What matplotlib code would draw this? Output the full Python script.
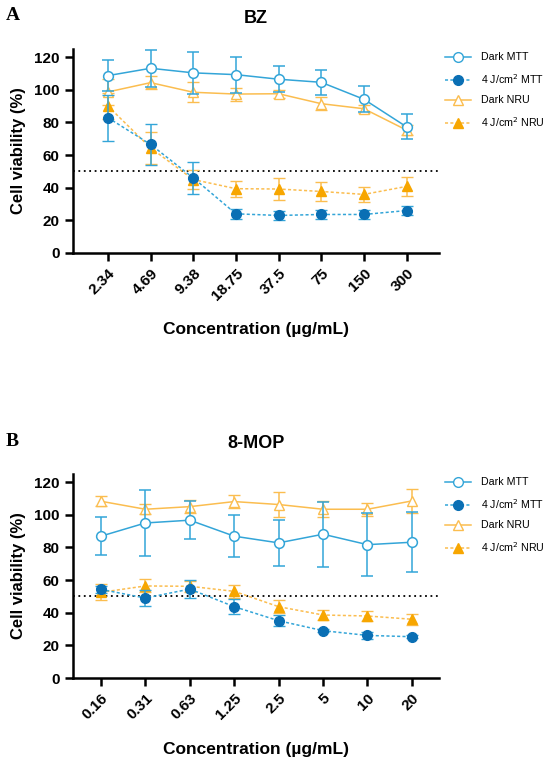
import numpy as np
import matplotlib.pyplot as plt
from matplotlib.lines import Line2D

plt.rcParams['font.family'] = ['Liberation Sans', 'DejaVu Sans']

# Panel A - BZ
bz_conc = ['2.34', '4.69', '9.38', '18.75', '37.5', '75', '150', '300']
bz_dark_mtt = [108.7, 113.2, 110.4, 109.3, 106.5, 104.6, 94.2, 77.3]
bz_dark_mtt_err = [9.5, 11.5, 13.0, 11.0, 8.0, 7.6, 8.0, 7.7]
bz_uv_mtt = [82.9, 66.5, 46.0, 24.0, 23.0, 23.6, 23.6, 26.0]
bz_uv_mtt_err = [14.0, 12.7, 9.6, 3.0, 3.0, 3.0, 3.0, 3.0]
bz_dark_nru = [98.7, 104.4, 98.5, 97.4, 97.6, 91.5, 88.4, 75.3]
bz_dark_nru_err = [8.0, 4.0, 6.0, 4.0, 2.5, 4.0, 2.5, 3.0]
bz_uv_nru = [90.0, 64.4, 45.0, 39.4, 39.2, 37.7, 35.9, 40.8]
bz_uv_nru_err = [8.0, 10.0, 6.0, 5.0, 7.0, 6.0, 4.5, 6.0]

# Panel B - 8-MOP
mop_conc = ['0.16', '0.31', '0.63', '1.25', '2.5', '5', '10', '20']
mop_dark_mtt = [86.9, 95.0, 96.7, 86.9, 82.8, 88.1, 81.7, 83.2]
mop_dark_mtt_err = [11.5, 20.0, 11.5, 13.0, 14.3, 20.0, 19.5, 18.5]
mop_uv_mtt = [54.3, 49.0, 54.5, 43.7, 35.1, 29.0, 26.1, 25.3]
mop_uv_mtt_err = [2.0, 5.0, 5.5, 4.5, 3.5, 1.0, 2.0, 1.0]
mop_dark_nru = [108.3, 103.4, 105.0, 108.1, 106.3, 103.4, 103.4, 108.5]
mop_dark_nru_err = [3.0, 3.0, 4.0, 4.0, 7.5, 5.0, 4.0, 7.5]
mop_uv_nru = [52.5, 56.4, 56.2, 53.1, 43.7, 38.6, 38.0, 36.0]
mop_uv_nru_err = [5.0, 4.0, 3.5, 4.0, 4.0, 3.0, 3.0, 3.5]

c_mtt = '#33a5d8'
c_mtt_dark = '#0a6fb4'
c_nru = '#fbbd4f'
c_nru_dark = '#f7a600'
dash = (0, (2, 1.5))


def panel(ax, conc, dm, dme, um, ume, dn, dne, un, une, title, xpad):
    x = np.arange(len(conc))
    ax.errorbar(x, dm, yerr=dme, color=c_mtt, lw=1.1, marker='o', ms=7,
                mfc='white', mec=c_mtt, mew=1.1, capsize=4, elinewidth=1.1, zorder=4)
    ax.errorbar(x, um, yerr=ume, color=c_mtt, lw=1.1, ls=dash, marker='o', ms=7,
                mfc=c_mtt_dark, mec=c_mtt_dark, capsize=4, elinewidth=1.1, zorder=4)
    ax.errorbar(x, dn, yerr=dne, color=c_nru, lw=1.1, marker='^', ms=7,
                mfc='white', mec=c_nru, mew=1.0, capsize=4, elinewidth=1.1, zorder=3)
    ax.errorbar(x, un, yerr=une, color=c_nru, lw=1.1, ls=dash, marker='^', ms=7,
                mfc=c_nru_dark, mec=c_nru_dark, capsize=4, elinewidth=1.1, zorder=3)
    ax.axhline(50, color='black', ls=(0, (1, 2)), lw=1.3, zorder=2)

    ax.set_xlim(-xpad[0], len(conc) - 1 + xpad[1])
    ax.set_ylim(0, 125)
    ax.set_yticks([0, 20, 40, 60, 80, 100, 120])
    ax.set_xticks(x)
    ax.set_xticklabels(conc, rotation=45, ha='right', rotation_mode='anchor')
    for s in ['top', 'right']:
        ax.spines[s].set_visible(False)
    for s in ['left', 'bottom']:
        ax.spines[s].set_linewidth(1.8)
    ax.tick_params(width=1.8, length=6, labelsize=11)
    for lab in ax.get_xticklabels() + ax.get_yticklabels():
        lab.set_fontweight('bold')
    ax.set_ylabel('Cell viability (%)', fontsize=12, fontweight='bold', labelpad=6)
    ax.set_xlabel('Concentration (\u00b5g/mL)', fontsize=12.5, fontweight='bold', labelpad=14)
    ax.set_title(title, fontsize=13, fontweight='bold', pad=19)

    handles = [
        Line2D([], [], color=c_mtt, lw=1.1, marker='o', ms=7, mfc='white', mec=c_mtt),
        Line2D([], [], color=c_mtt, lw=1.1, ls=dash, marker='o', ms=7,
               mfc=c_mtt_dark, mec=c_mtt_dark),
        Line2D([], [], color=c_nru, lw=1.1, marker='^', ms=7, mfc='white', mec=c_nru),
        Line2D([], [], color=c_nru, lw=1.1, ls=dash, marker='^', ms=7,
               mfc=c_nru_dark, mec=c_nru_dark),
    ]
    labels = ['Dark MTT', '4 J/cm$^2$ MTT', 'Dark NRU', '4 J/cm$^2$ NRU']
    ax.legend(handles, labels, loc='upper left', bbox_to_anchor=(1.0, 1.015), frameon=False,
              fontsize=7.7, handlelength=2.4, handletextpad=0.9, labelspacing=0.9,
              borderaxespad=0.2)


fig = plt.figure(figsize=(5.5, 7.59), dpi=100)
ax1 = fig.add_axes([0.1327, 0.6667, 0.6655, 0.2687])
ax2 = fig.add_axes([0.1327, 0.1067, 0.6655, 0.2688])

panel(ax1, bz_conc, bz_dark_mtt, bz_dark_mtt_err, bz_uv_mtt, bz_uv_mtt_err,
      bz_dark_nru, bz_dark_nru_err, bz_uv_nru, bz_uv_nru_err, 'BZ', (0.82, 0.76))
panel(ax2, mop_conc, mop_dark_mtt, mop_dark_mtt_err, mop_uv_mtt, mop_uv_mtt_err,
      mop_dark_nru, mop_dark_nru_err, mop_uv_nru, mop_uv_nru_err, '8-MOP', (0.63, 0.61))

fig.text(0.01, 0.980, 'A', family='Liberation Serif', fontsize=14, fontweight='bold', va='center')
fig.text(0.01, 0.418, 'B', family='Liberation Serif', fontsize=14, fontweight='bold', va='center')

fig.savefig('out.png', dpi=100)
